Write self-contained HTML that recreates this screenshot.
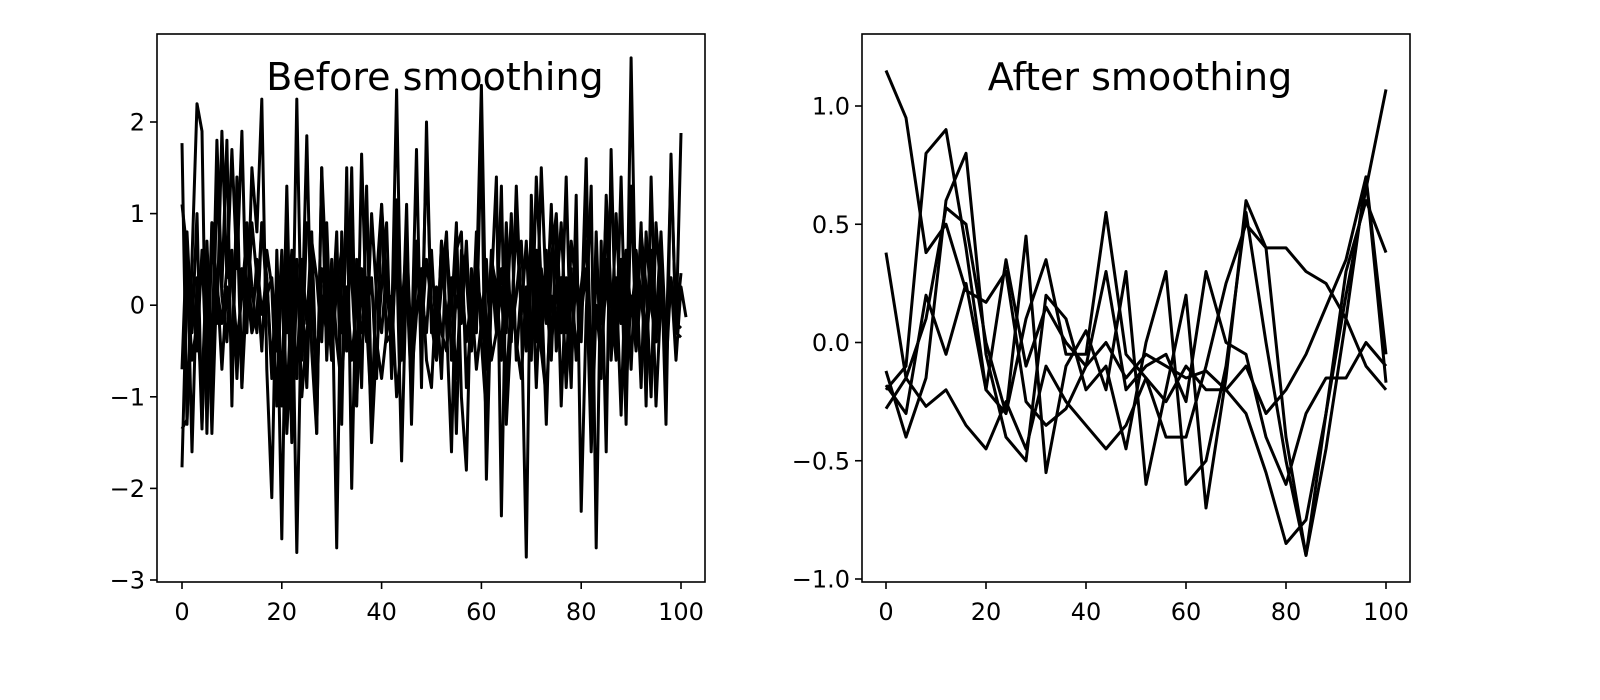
<!DOCTYPE html>
<html><head><meta charset="utf-8"><style>
html,body{margin:0;padding:0;background:#fff;overflow:hidden;width:1600px;height:700px}
svg{display:block}
svg text{font-family:"DejaVu Sans","Liberation Sans",sans-serif;fill:#000}
</style></head><body>
<svg id="fig" width="1600" height="700" xmlns="http://www.w3.org/2000/svg"></svg>
<script>
const leftXTicks=[0,20,40,60,80,100];
const leftYTicks=[2,1,0,-1,-2,-3];
const leftYLabels=["2","1","0","\u22121","\u22122","\u22123"];
const rightXTicks=[0,20,40,60,80,100];
const rightYTicks=[1.0,0.5,0.0,-0.5,-1.0];
const rightYLabels=["1.0","0.5","0.0","\u22120.5","\u22121.0"];
const rawL1=[1.77,-1.3,0.5,2.2,1.9,-1.4,0.9,-0.2,1.9,0.3,1.7,0.4,1.9,-0.3,1.5,0.8,2.25,-0.7,-2.1,0.6,-1.1,1.3,-1.0,2.25,-0.6,0.9,0.7,-1.4,1.5,-0.6,0.5,-2.65,0.8,-0.5,1.5,-1.1,1.65,-0.2,-1.2,0.3,1.1,-0.4,-0.3,2.35,-0.6,1.1,-1.3,0.6,-0.4,1.7,-0.2,-0.6,0.7,-0.2,-1.6,0.6,0.8,-0.9,-0.1,0.2,2.4,-0.6,0.4,-0.3,1.3,-1.3,-0.2,0.9,-0.1,-2.75,1.2,-0.4,1.5,0.1,-0.6,0.8,-1.1,0.3,-0.9,1.2,-2.25,-0.1,1.3,-2.65,0.7,-1.6,1.7,-0.5,1.4,-0.8,2.7,-0.3,0.9,-1.1,1.4,-0.4,0.6,-1.3,1.65,-0.3,1.88];
const rawL2=[1.1,0.6,-1.6,0.3,-1.35,0.7,-0.6,1.8,0.2,1.8,-1.1,1.4,-0.9,0.9,0.2,-0.3,0.9,0.3,-0.7,0.3,-2.55,0.8,-1.5,0.3,-0.3,1.85,-0.5,-1.4,1.5,0.2,-0.2,0.8,-1.3,1.5,-2.0,0.5,-0.9,1.3,-1.1,-0.5,0.2,0.9,-0.8,1.15,-0.1,0.7,-0.5,1.7,-0.9,2.0,-0.3,0.1,-0.8,0.7,-0.1,0.9,-1.0,-1.8,0.4,-0.3,1.9,-1.9,0.2,1.4,-2.3,0.6,-0.4,1.3,-0.1,0.7,-0.6,1.4,0.2,-1.3,0.5,1.0,-0.3,1.4,-0.7,0.4,-0.2,1.6,-1.2,0.8,-0.8,1.2,0.1,-0.6,0.5,-1.3,1.3,-0.4,0.8,0.2,-1.0,0.9,0.1,-0.5,1.5,-0.2,0.35];
const rawL3=[-0.7,0.8,-0.3,1.0,-1.3,0.0,-1.0,1.4,0.1,-0.4,0.6,-0.8,0.4,-0.2,0.9,0.3,-0.5,0.6,0.2,-1.1,0.4,-0.3,0.6,-2.7,0.2,-0.9,0.7,0.3,-0.4,0.9,-0.6,0.2,0.6,-0.5,1.0,-1.1,0.4,-0.1,0.3,-0.8,1.1,0.2,-0.4,0.6,-1.7,0.4,-0.9,0.7,-0.3,0.5,0.0,-0.6,0.7,-0.2,0.3,-1.4,0.6,0.3,-0.5,0.8,-0.4,-1.2,0.5,0.2,-0.6,0.9,-0.3,0.1,0.7,-0.5,0.6,-0.9,0.4,-0.2,1.1,-0.5,0.3,-0.8,0.7,0.2,-0.4,1.3,-0.7,0.5,-0.2,1.0,-0.6,0.3,-1.2,0.6,-0.1,0.4,-0.9,0.8,0.0,-0.4,0.6,-0.7,0.3,-0.2,-0.25];
const rawL4=[-1.35,-1.25,0.2,-0.5,0.6,-0.8,0.9,0.2,-0.2,0.4,0.3,-0.4,0.1,0.8,-0.3,-0.1,0.9,0.1,0.3,-0.5,0.6,-1.1,0.2,-0.8,0.5,-0.2,0.8,-0.9,0.4,0.1,-0.6,0.5,-0.3,0.8,0.3,-0.7,0.2,-0.4,1.0,0.1,-0.3,0.4,-0.2,0.7,-0.5,0.3,-1.0,0.5,0.1,-0.3,0.6,-0.4,0.2,0.8,-0.6,0.1,-0.2,0.7,-0.5,0.3,0.0,-0.7,0.6,-0.1,0.4,-0.3,1.0,-0.6,0.2,-0.2,0.8,0.3,-0.5,0.6,-0.4,0.1,0.9,-0.3,0.4,-0.6,0.2,0.7,-0.8,0.3,-0.1,0.5,-0.4,1.0,-0.2,0.4,-0.7,0.6,0.1,-0.5,0.3,-0.2,0.8,-0.4,0.2,-0.3,-0.35];
const rawL5=[-1.77,0.3,-0.6,-0.2,-0.9,0.5,-1.4,0.3,-0.7,0.2,-0.5,1.0,-0.9,0.2,-0.3,0.5,-0.1,0.3,-0.8,-0.2,0.4,-1.4,-0.3,0.5,-1.0,-0.3,0.2,-0.6,0.1,-0.3,0.4,-0.4,-0.9,0.2,-0.6,0.0,-0.3,0.3,-1.5,-0.4,-0.8,-0.3,0.1,-1.0,-0.4,0.3,-0.8,-0.1,0.4,-0.6,-0.9,0.2,-0.3,-0.5,0.1,-0.8,0.3,-0.4,0.1,-0.7,-0.2,0.5,-0.6,-0.3,0.2,-0.9,0.1,-0.4,-0.8,0.2,-0.3,0.6,-0.5,-1.0,0.1,-0.2,0.3,-0.9,0.2,-0.5,-0.1,0.4,-1.6,0.0,-0.6,0.3,-0.4,-0.2,0.5,-0.9,0.1,-0.5,0.2,-0.3,0.6,-1.1,0.1,-0.4,0.3,-0.6,0.2,-0.13];
const smoothX=[0,4,8,12,16,20,24,28,32,36,40,44,48,52,56,60,64,68,72,76,80,84,88,92,96,100];
const smS1=[1.15,0.95,0.38,0.5,0.22,0.17,0.3,-0.25,-0.35,-0.28,-0.1,0.0,-0.15,-0.05,-0.1,-0.15,-0.12,-0.2,-0.3,-0.55,-0.85,-0.75,-0.3,0.2,0.65,1.07];
const smS2=[-0.2,-0.1,0.8,0.9,0.4,-0.2,-0.3,0.1,0.35,-0.05,-0.05,0.55,-0.05,-0.15,-0.4,-0.4,-0.1,0.25,0.5,0.4,0.4,0.3,0.25,0.1,-0.1,-0.2];
const smS3=[-0.12,-0.4,-0.15,0.6,0.8,-0.05,-0.4,-0.5,0.2,0.1,-0.2,-0.1,-0.45,0.0,0.3,-0.6,-0.5,-0.1,0.55,0.0,-0.5,-0.9,-0.45,0.1,0.7,-0.05];
const smS4=[0.38,-0.15,0.1,0.57,0.5,0.0,-0.3,0.45,-0.55,-0.1,0.05,-0.2,0.3,-0.6,-0.2,0.2,-0.7,-0.15,0.6,0.4,-0.4,-0.9,-0.3,0.3,0.6,0.38];
const smS5=[-0.28,-0.15,-0.27,-0.2,-0.35,-0.45,-0.25,-0.45,-0.1,-0.25,-0.35,-0.45,-0.35,-0.15,-0.25,-0.1,-0.2,-0.2,-0.1,-0.3,-0.2,-0.05,0.15,0.35,0.7,-0.17];
const smS6=[-0.18,-0.3,0.2,-0.05,0.25,-0.2,0.35,-0.1,0.15,0.0,-0.1,0.3,-0.2,-0.1,-0.05,-0.25,0.3,0.0,-0.05,-0.4,-0.6,-0.3,-0.15,-0.15,0.0,-0.1];

const NS="http://www.w3.org/2000/svg";
const svg=document.getElementById('fig');
function mk(tag,attrs,parent){const e=document.createElementNS(NS,tag);for(const k in attrs)e.setAttribute(k,attrs[k]);(parent||svg).appendChild(e);return e;}

function panel(name,box,xr,yr,xTicks,yTicks,yLabels,title,series,xsFor){
  const g=mk('g',{});
  
  
  const sx=v=>box.x0+(v-xr[0])/(xr[1]-xr[0])*(box.x1-box.x0);
  const sy=v=>box.y1-(v-yr[0])/(yr[1]-yr[0])*(box.y1-box.y0);
  series.forEach((s,i)=>{
    const xs=xsFor(s);
    const d=s.map((v,j)=>(j?'L':'M')+sx(xs[j]).toFixed(1)+' '+sy(v).toFixed(1)).join(' ');
    const p=mk('path',{d:d,fill:'none',stroke:'#000','stroke-width':3,'stroke-linejoin':'round'},g);
    
    
  });
  const fr=mk('rect',{x:box.x0,y:box.y0,width:box.x1-box.x0,height:box.y1-box.y0,fill:'none',stroke:'#000','stroke-width':1.6},g);
  
  
  xTicks.forEach(t=>{
    const x=sx(t);
    mk('line',{x1:x,x2:x,y1:box.y1,y2:box.y1+7,stroke:'#000','stroke-width':1.6},g);
    const tx=mk('text',{x:x,y:box.y1+38,'text-anchor':'middle','font-size':24},g);
    tx.textContent=String(t);
    
    
  });
  yTicks.forEach((t,i)=>{
    const y=sy(t);
    mk('line',{x1:box.x0-7,x2:box.x0,y1:y,y2:y,stroke:'#000','stroke-width':1.6},g);
    const tx=mk('text',{x:box.x0-12,y:y+8.5,'text-anchor':'end','font-size':24},g);
    tx.textContent=yLabels[i];
    
    
  });
  const tt=mk('text',{x:(box.x0+box.x1)/2+4,y:90,'text-anchor':'middle','font-size':38},g);
  tt.textContent=title;
  
  
}
const lxr=[(157-182)/4.99,(705-182)/4.99];
const lu=(580-122)/5; const ly0=122+2*lu;
const lyr=[(ly0-582)/lu,(ly0-34)/lu];
panel('before-smoothing-panel',{x0:157,x1:705,y0:34,y1:582},lxr,lyr,leftXTicks,leftYTicks,leftYLabels,'Before smoothing',
  [rawL1,rawL2,rawL3,rawL4,rawL5],s=>s.map((_,i)=>i));
const rxr=[(862-886)/5,(1410-886)/5];
const ru=(579-106)/2; const ry0=106+ru;
const ryr=[(ry0-582)/ru,(ry0-34)/ru];
panel('after-smoothing-panel',{x0:862,x1:1410,y0:34,y1:582},rxr,ryr,rightXTicks,rightYTicks,rightYLabels,'After smoothing',
  [smS1,smS2,smS3,smS4,smS5,smS6],s=>smoothX);
</script>
</body></html>
